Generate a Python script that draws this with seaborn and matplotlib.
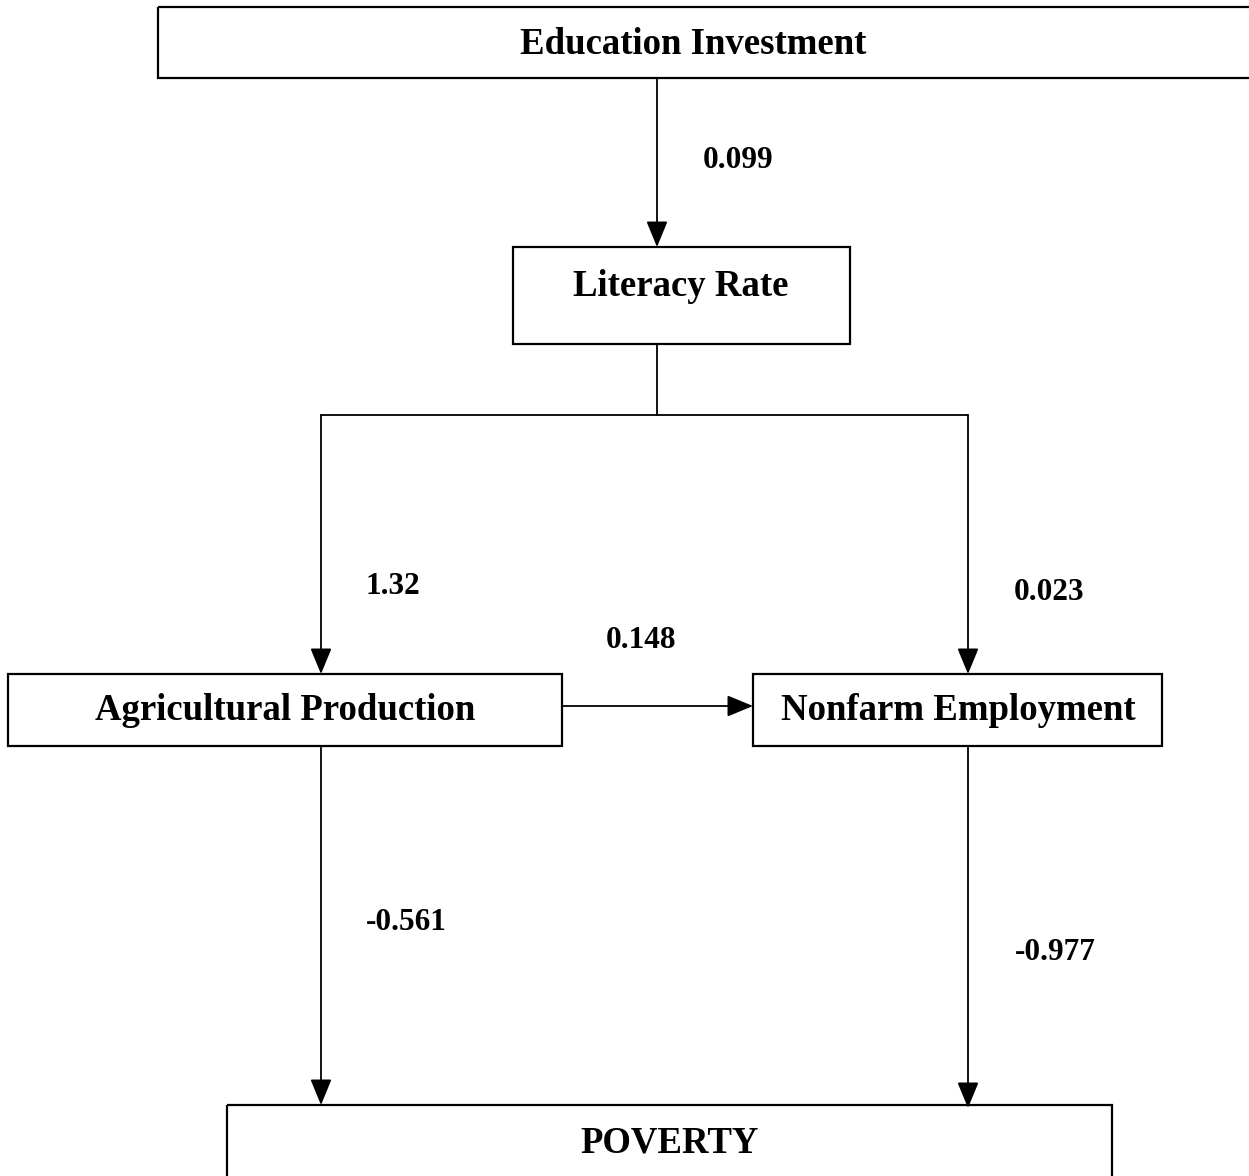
import matplotlib
matplotlib.use("Agg")
import matplotlib.pyplot as plt
import seaborn as sns
import pandas as pd
from matplotlib.patches import Rectangle

# path diagram data
nodes = ["Education Investment", "Literacy Rate", "Agricultural Production",
         "Nonfarm Employment", "POVERTY"]
edge_from = ["Education Investment", "Literacy Rate", "Literacy Rate",
             "Agricultural Production", "Agricultural Production", "Nonfarm Employment"]
edge_to = ["Literacy Rate", "Agricultural Production", "Nonfarm Employment",
           "Nonfarm Employment", "POVERTY", "POVERTY"]
coefs = ["0.099", "1.32", "0.023", "0.148", "-0.561", "-0.977"]

# layout (pixel coords, y down): left, top, right, bottom
box = {
    "Education Investment": (158, 7, 1262, 78),
    "Literacy Rate": (513, 247, 850, 344),
    "Agricultural Production": (8, 674, 562, 746),
    "Nonfarm Employment": (753, 674, 1162, 746),
    "POVERTY": (227, 1105, 1112, 1190),
}
text_y = {
    "Education Investment": 45,
    "Literacy Rate": 286,
    "Agricultural Production": 710,
    "Nonfarm Employment": 710,
    "POVERTY": 1143,
}
text_x = {"Education Investment": 693, "Literacy Rate": 681,
          "Agricultural Production": 285, "Nonfarm Employment": 958,
          "POVERTY": 670}
label_pos = [(738, 160), (393, 586), (1049, 593), (641, 640), (406, 922), (1055, 952)]

sns.set_theme(style="white")
plt.rcParams["font.family"] = ["Liberation Serif", "DejaVu Serif"]

fig = plt.figure(figsize=(12.49, 11.76), dpi=100)
ax = fig.add_axes([0, 0, 1, 1])
ax.set_xlim(0, 1249)
ax.set_ylim(1176, 0)
ax.axis("off")

for n in nodes:
    l, t, r, b = box[n]
    ax.add_patch(Rectangle((l, t), r - l, b - t, fill=False, lw=1.6, ec="black", zorder=2))
    ax.text(text_x[n], text_y[n], n, ha="center", va="center",
            fontsize=26.5, fontweight="bold", color="black")

# connector segments (no arrowhead)
segs = pd.DataFrame({
    "x": [657, 657, 321, 968],
    "y": [344, 415, 415, 415],
    "seg": ["a", "a", "b", "b"],
})
sns.lineplot(data=segs, x="x", y="y", units="seg", estimator=None, sort=False,
             color="black", lw=1.3, ax=ax)

arrows = {
    0: ((657, 78), (657, 247)),
    1: ((321, 415), (321, 674)),
    2: ((968, 415), (968, 674)),
    3: ((562, 706), (753, 706)),
    4: ((321, 746), (321, 1105)),
    5: ((968, 746), (968, 1108)),
}
for i, (s, e) in arrows.items():
    ax.annotate("", xy=e, xytext=s,
                arrowprops=dict(arrowstyle="-|>,head_length=0.8,head_width=0.33",
                                mutation_scale=20, lw=1.3, color="black",
                                shrinkA=0, shrinkB=0))
    ax.text(label_pos[i][0], label_pos[i][1], coefs[i], ha="center", va="center",
            fontsize=22.5, fontweight="bold", color="black")

fig.savefig("out.png", dpi=100)
